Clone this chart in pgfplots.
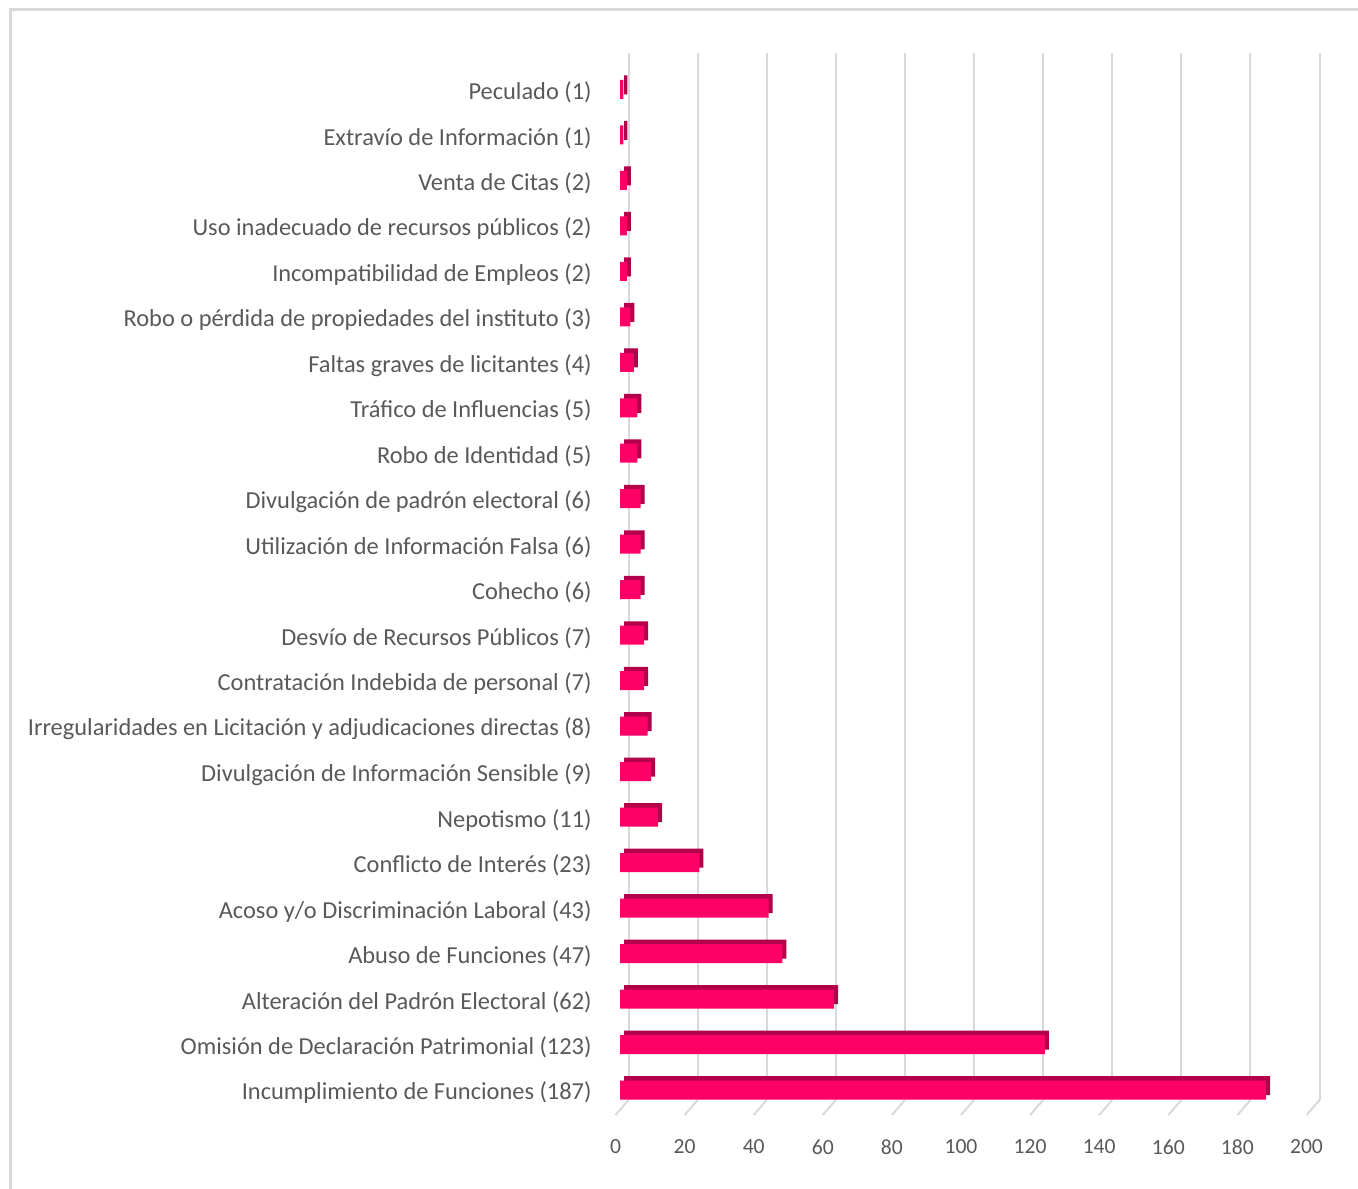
\documentclass[border=0pt]{standalone}
\usepackage{fontspec}
\setmainfont{Carlito}
\usepackage{pgfplots}
\pgfplotsset{compat=1.18}
\definecolor{barfront}{HTML}{FF0066}
\definecolor{bartop}{HTML}{B3004A}
\definecolor{gridgray}{HTML}{D9D9D9}
\definecolor{labelgray}{HTML}{595959}
\begin{document}
\begin{tikzpicture}
\path[use as bounding box] (0,0) rectangle (679pt,-594pt);
\clip (0,0) rectangle (679pt,-594pt);
\draw[gridgray, line width=1.2pt] (5.3pt,-600pt) -- (5.3pt,-4.8pt) -- (690pt,-4.8pt);
\begin{axis}[
  at={(310pt,-550pt)}, anchor=south west,
  scale only axis, width=345.5pt, height=523.5pt,
  xmin=0, xmax=200, ymin=-0.22, ymax=22.8,
  xbar, bar width=9.5pt, bar shift=0pt,
  axis x line*=bottom, axis y line*=left,
  axis line style={draw=none},
  major tick length=0pt,
  xtick={0,20,...,200},
  ytick={0,...,22},
  yticklabels={Incumplimiento de Funciones (187),Omisión de Declaración Patrimonial (123),Alteración del Padrón Electoral (62),Abuso de Funciones (47),Acoso y/o Discriminación Laboral (43),Conflicto de Interés (23),Nepotismo (11),Divulgación de Información Sensible (9),Irregularidades en Licitación y adjudicaciones directas (8),Contratación Indebida de personal (7),Desvío de Recursos Públicos (7),Cohecho (6),Utilización de Información Falsa (6),Divulgación de padrón electoral (6),Robo de Identidad (5),Tráfico de Influencias (5),Faltas graves de licitantes (4),Robo o pérdida de propiedades del instituto (3),Incompatibilidad de Empleos (2),Uso inadecuado de recursos públicos (2),Venta de Citas (2),Extravío de Información (1),Peculado (1)},
  yticklabel style={font=\fontsize{12.2}{14}\selectfont, text=labelgray, anchor=east, inner sep=0pt, xshift=-14pt, yshift=-1.5pt},
  xticklabel style={font=\fontsize{10.8}{12}\selectfont, text=labelgray, anchor=center, inner sep=0pt, yshift=-23.5pt, xshift=-2.25pt},
  /pgf/number format/assume math mode=true,
  xmajorgrids, major grid style={draw=gridgray, line width=1pt, xshift=4.25pt},
  clip=false,
]
\pgfplotsinvokeforeach{0,20,...,200}{
  \draw[gridgray, line width=1pt] ([xshift=4.25pt]axis cs:#1,-0.22) -- ++(-6.5pt,-7.5pt);
}
\addplot[draw=none, fill=bartop, xshift=2pt, yshift=2.2pt] coordinates {
(187,0) (123,1) (62,2) (47,3) (43,4) (23,5) (11,6) (9,7) (8,8) (7,9) (7,10) (6,11) (6,12) (6,13) (5,14) (5,15) (4,16) (3,17) (2,18) (2,19) (2,20) (1,21) (1,22)};
\addplot[draw=none, fill=barfront] coordinates {
(187,0) (123,1) (62,2) (47,3) (43,4) (23,5) (11,6) (9,7) (8,8) (7,9) (7,10) (6,11) (6,12) (6,13) (5,14) (5,15) (4,16) (3,17) (2,18) (2,19) (2,20) (1,21) (1,22)};
\end{axis}
\end{tikzpicture}
\end{document}
